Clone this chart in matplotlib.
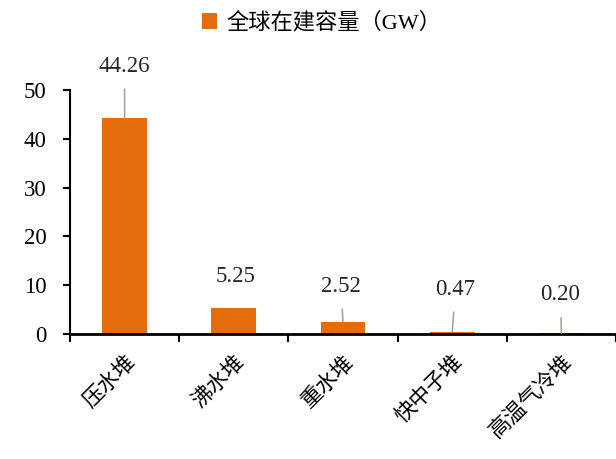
import numpy as np
import matplotlib.pyplot as plt

plt.rcParams['font.family'] = ['Liberation Serif', 'Noto Sans CJK SC']

# data
categories = ['压水堆', '沸水堆', '重水堆', '快中子堆', '高温气冷堆']
capacity = [44.26, 5.25, 2.52, 0.47, 0.20]
label_x = [0.0, 1.02, 1.98, 3.03, 3.99]
label_y = [54.9, 11.7, 9.8, 9.2, 8.0]
leader = [True, False, True, True, True]

color = '#E46C0A'

fig = plt.figure(figsize=(6.16, 4.59), dpi=100)
ax = fig.add_axes([70 / 616, 125 / 459, 546 / 616, 244 / 459])

x = np.arange(len(categories))
bars = ax.bar(x, capacity, width=0.41, color=color, label='全球在建容量（GW）', zorder=2)

for xi, v, tx, ty, ld in zip(x, capacity, label_x, label_y, leader):
    arrow = None
    if ld:
        arrow = dict(arrowstyle='-', color='#A6A6A6', lw=1.2, shrinkA=7, shrinkB=0)
    ax.annotate('%.2f' % v, xy=(xi, v), xytext=(tx, ty), ha='center', va='center',
                fontsize=16.5, color='#262626', arrowprops=arrow)

ax.set_xlim(-0.5, -0.5 + 546 / 111)
ax.set_ylim(0, 50)
ax.set_yticks(np.arange(0, 51, 10))
ax.tick_params(axis='y', labelsize=16.5, length=5, width=1.5, direction='out', pad=12)

# category boundaries as ticks
ax.set_xticks(np.arange(len(categories) + 1) - 0.5)
ax.set_xticklabels([])
ax.set_xticks(x, minor=True)
ax.set_xticklabels(categories, minor=True, rotation=45, ha='right', va='top',
                   rotation_mode='anchor', fontsize=15.5, family=['Noto Sans CJK SC'])
ax.tick_params(axis='x', which='major', length=6, width=1.5, direction='out')
ax.tick_params(axis='x', which='minor', length=0, pad=12)

for s in ['top', 'right']:
    ax.spines[s].set_visible(False)
ax.spines['left'].set_linewidth(1.5)
ax.spines['bottom'].set_linewidth(2)

leg = fig.legend(loc='center', bbox_to_anchor=(0.522, 0.95), frameon=False,
                 fontsize=16, handlelength=0.7, handleheight=0.7, handletextpad=0.4)

fig.savefig('out.png', dpi=100)
